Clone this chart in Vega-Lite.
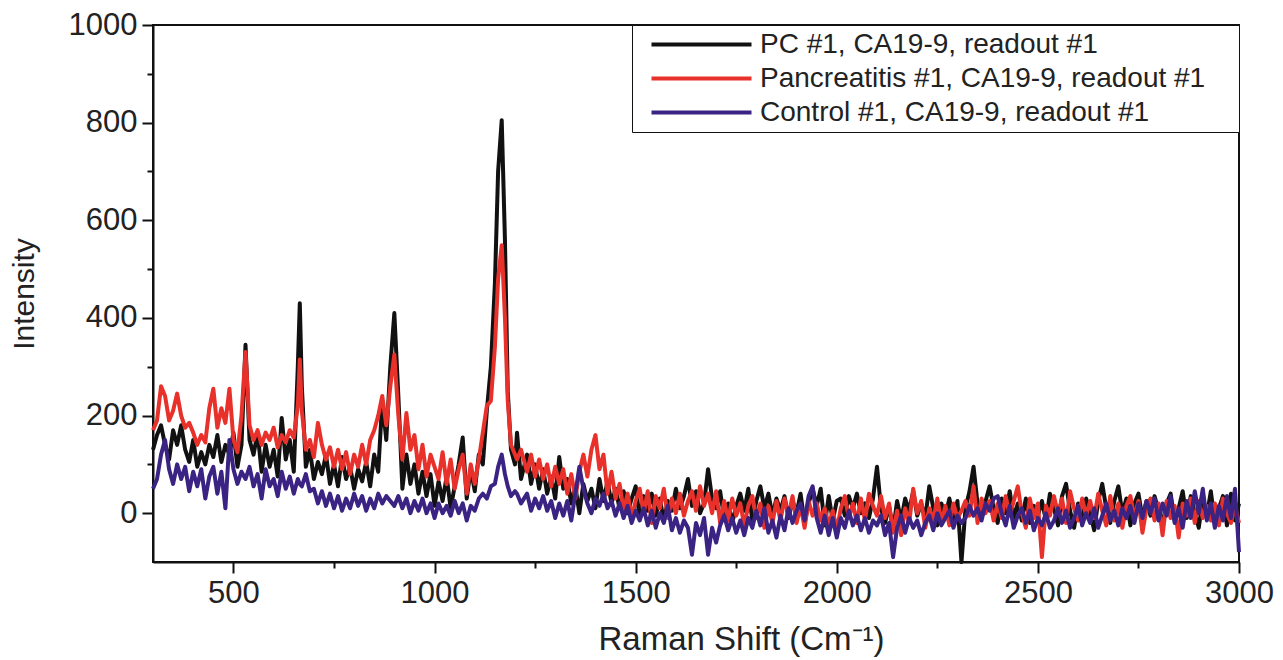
{
  "$schema": "https://vega.github.io/schema/vega-lite/v6.json",
  "width": 1086,
  "height": 537,
  "autosize": "none",
  "padding": {"left": 153, "top": 25, "right": 44, "bottom": 98},
  "background": "white",
  "config": {
    "font": "Liberation Sans",
    "view": {"stroke": "#111111", "strokeWidth": 2}
  },
  "data": {"values": [
    {"x":300,"pc":130,"pa":170,"co":50},{"x":310,"pc":160,"pa":190,"co":70},{"x":320,"pc":180,"pa":260,"co":120},{"x":330,"pc":140,"pa":240,"co":150},
    {"x":340,"pc":110,"pa":190,"co":90},{"x":350,"pc":170,"pa":210,"co":60},{"x":360,"pc":140,"pa":245,"co":100},{"x":370,"pc":180,"pa":200,"co":70},
    {"x":380,"pc":130,"pa":175,"co":95},{"x":390,"pc":105,"pa":185,"co":45},{"x":400,"pc":150,"pa":165,"co":85},{"x":410,"pc":95,"pa":140,"co":55},
    {"x":420,"pc":125,"pa":160,"co":90},{"x":430,"pc":100,"pa":145,"co":30},{"x":440,"pc":140,"pa":215,"co":75},{"x":450,"pc":115,"pa":255,"co":95},
    {"x":460,"pc":160,"pa":175,"co":40},{"x":470,"pc":105,"pa":215,"co":85},{"x":480,"pc":140,"pa":185,"co":10},{"x":490,"pc":120,"pa":255,"co":150},
    {"x":500,"pc":165,"pa":150,"co":90},{"x":510,"pc":95,"pa":125,"co":60},{"x":520,"pc":140,"pa":200,"co":85},{"x":530,"pc":345,"pa":330,"co":70},
    {"x":540,"pc":150,"pa":180,"co":95},{"x":550,"pc":120,"pa":150,"co":55},{"x":560,"pc":165,"pa":170,"co":80},{"x":570,"pc":85,"pa":140,"co":30},
    {"x":580,"pc":140,"pa":165,"co":90},{"x":590,"pc":95,"pa":150,"co":55},{"x":600,"pc":130,"pa":175,"co":70},{"x":610,"pc":75,"pa":135,"co":35},
    {"x":620,"pc":195,"pa":160,"co":85},{"x":630,"pc":110,"pa":145,"co":50},{"x":640,"pc":150,"pa":170,"co":75},{"x":650,"pc":85,"pa":155,"co":40},
    {"x":660,"pc":300,"pa":220,"co":70},{"x":665,"pc":430,"pa":315,"co":60},{"x":670,"pc":260,"pa":210,"co":55},{"x":680,"pc":95,"pa":130,"co":80},
    {"x":690,"pc":130,"pa":150,"co":45},
    {"x":700,"pc":70,"pa":115,"co":50},{"x":710,"pc":105,"pa":185,"co":20},{"x":720,"pc":80,"pa":140,"co":45},{"x":730,"pc":120,"pa":110,"co":15},
    {"x":740,"pc":60,"pa":135,"co":40},{"x":750,"pc":100,"pa":95,"co":10},{"x":760,"pc":55,"pa":130,"co":35},{"x":770,"pc":115,"pa":90,"co":5},
    {"x":780,"pc":70,"pa":125,"co":30},{"x":790,"pc":95,"pa":80,"co":10},{"x":800,"pc":50,"pa":120,"co":40},{"x":810,"pc":90,"pa":95,"co":15},
    {"x":820,"pc":65,"pa":140,"co":35},{"x":830,"pc":105,"pa":100,"co":5},{"x":840,"pc":55,"pa":150,"co":30},{"x":850,"pc":120,"pa":170,"co":10},
    {"x":860,"pc":85,"pa":200,"co":40},{"x":870,"pc":230,"pa":240,"co":20},{"x":880,"pc":150,"pa":180,"co":35},{"x":890,"pc":300,"pa":260,"co":25},
    {"x":900,"pc":410,"pa":325,"co":15},{"x":910,"pc":240,"pa":200,"co":35},{"x":920,"pc":50,"pa":110,"co":10},{"x":930,"pc":120,"pa":205,"co":30},
    {"x":940,"pc":60,"pa":130,"co":0},{"x":950,"pc":100,"pa":160,"co":25},{"x":960,"pc":40,"pa":90,"co":5},{"x":970,"pc":85,"pa":140,"co":30},
    {"x":980,"pc":35,"pa":75,"co":0},{"x":990,"pc":80,"pa":120,"co":20},{"x":1000,"pc":15,"pa":95,"co":-10},{"x":1010,"pc":65,"pa":70,"co":20},
    {"x":1020,"pc":25,"pa":125,"co":0},{"x":1030,"pc":75,"pa":60,"co":15},{"x":1040,"pc":10,"pa":110,"co":-5},{"x":1050,"pc":55,"pa":50,"co":25},
    {"x":1060,"pc":100,"pa":90,"co":0},{"x":1070,"pc":155,"pa":120,"co":20},{"x":1080,"pc":30,"pa":40,"co":-15},{"x":1090,"pc":90,"pa":100,"co":15},
    {"x":1100,"pc":45,"pa":60,"co":5},{"x":1110,"pc":120,"pa":110,"co":30},{"x":1120,"pc":100,"pa":165,"co":40},{"x":1130,"pc":210,"pa":220,"co":30},
    {"x":1140,"pc":300,"pa":230,"co":55},{"x":1150,"pc":470,"pa":340,"co":60},{"x":1158,"pc":700,"pa":480,"co":95},{"x":1167,"pc":805,"pa":549,"co":120},
    {"x":1175,"pc":560,"pa":400,"co":80},{"x":1182,"pc":250,"pa":230,"co":55},{"x":1190,"pc":130,"pa":140,"co":35},{"x":1200,"pc":100,"pa":120,"co":45},
    {"x":1205,"pc":165,"pa":110,"co":40},{"x":1215,"pc":70,"pa":130,"co":20},
    {"x":1230,"pc":120,"pa":85,"co":40},{"x":1240,"pc":60,"pa":120,"co":5},{"x":1250,"pc":100,"pa":75,"co":30},{"x":1260,"pc":50,"pa":110,"co":10},
    {"x":1270,"pc":90,"pa":70,"co":35},{"x":1280,"pc":40,"pa":100,"co":5},{"x":1290,"pc":75,"pa":55,"co":25},{"x":1300,"pc":30,"pa":95,"co":-10},
    {"x":1310,"pc":115,"pa":60,"co":20},{"x":1320,"pc":50,"pa":90,"co":-5},{"x":1330,"pc":70,"pa":40,"co":25},{"x":1340,"pc":20,"pa":80,"co":-15},
    {"x":1350,"pc":55,"pa":30,"co":40},{"x":1360,"pc":0,"pa":85,"co":95},{"x":1370,"pc":60,"pa":120,"co":50},{"x":1380,"pc":25,"pa":75,"co":20},
    {"x":1390,"pc":50,"pa":130,"co":0},{"x":1400,"pc":10,"pa":160,"co":30},{"x":1410,"pc":70,"pa":90,"co":15},{"x":1420,"pc":25,"pa":120,"co":40},
    {"x":1430,"pc":65,"pa":40,"co":10},{"x":1440,"pc":20,"pa":85,"co":25},{"x":1450,"pc":50,"pa":30,"co":-5},{"x":1460,"pc":10,"pa":60,"co":20},
    {"x":1470,"pc":45,"pa":5,"co":-10},{"x":1480,"pc":0,"pa":40,"co":15},{"x":1490,"pc":30,"pa":-10,"co":-20},{"x":1500,"pc":55,"pa":25,"co":5},
    {"x":1510,"pc":-10,"pa":50,"co":-15},{"x":1520,"pc":35,"pa":0,"co":10},{"x":1530,"pc":5,"pa":45,"co":-25},{"x":1540,"pc":40,"pa":-20,"co":5},
    {"x":1550,"pc":-5,"pa":35,"co":-30},{"x":1560,"pc":30,"pa":10,"co":0},{"x":1570,"pc":-15,"pa":50,"co":-20},{"x":1580,"pc":25,"pa":-10,"co":15},
    {"x":1590,"pc":5,"pa":30,"co":-35},{"x":1600,"pc":50,"pa":0,"co":-10},{"x":1610,"pc":10,"pa":40,"co":-40},{"x":1620,"pc":35,"pa":-5,"co":-15},
    {"x":1630,"pc":70,"pa":25,"co":-30},{"x":1640,"pc":15,"pa":45,"co":-85},{"x":1650,"pc":45,"pa":5,"co":-20},{"x":1660,"pc":0,"pa":55,"co":-45},
    {"x":1670,"pc":20,"pa":15,"co":-10},{"x":1680,"pc":90,"pa":40,"co":-85},{"x":1690,"pc":30,"pa":0,"co":-30},{"x":1700,"pc":10,"pa":45,"co":-60},
    {"x":1710,"pc":45,"pa":-20,"co":-25},{"x":1720,"pc":-10,"pa":25,"co":-5},{"x":1730,"pc":20,"pa":-15,"co":-35},{"x":1740,"pc":-20,"pa":30,"co":-10},
    {"x":1750,"pc":15,"pa":-5,"co":-40},{"x":1760,"pc":40,"pa":20,"co":-15},{"x":1770,"pc":5,"pa":-25,"co":-45},{"x":1780,"pc":50,"pa":15,"co":-10},
    {"x":1790,"pc":-15,"pa":35,"co":-30},{"x":1800,"pc":25,"pa":-10,"co":5},{"x":1810,"pc":55,"pa":20,"co":-25},{"x":1820,"pc":10,"pa":-30,"co":10},
    {"x":1830,"pc":40,"pa":15,"co":-40},{"x":1840,"pc":-5,"pa":-20,"co":-15},{"x":1850,"pc":30,"pa":25,"co":-50},{"x":1860,"pc":5,"pa":-15,"co":-5},
    {"x":1870,"pc":35,"pa":30,"co":-35},{"x":1880,"pc":-10,"pa":-5,"co":10},{"x":1890,"pc":25,"pa":35,"co":-20},{"x":1900,"pc":0,"pa":-20,"co":5},
    {"x":1910,"pc":40,"pa":15,"co":20},{"x":1920,"pc":-20,"pa":-30,"co":-15},{"x":1930,"pc":20,"pa":25,"co":35},{"x":1940,"pc":50,"pa":-5,"co":55},
    {"x":1950,"pc":15,"pa":20,"co":-10},{"x":1960,"pc":50,"pa":-15,"co":-40},{"x":1970,"pc":-25,"pa":10,"co":-5},{"x":1980,"pc":35,"pa":-25,"co":-45},
    {"x":1990,"pc":-15,"pa":5,"co":-10},{"x":2000,"pc":25,"pa":-35,"co":-50},{"x":2010,"pc":30,"pa":10,"co":-10},{"x":2020,"pc":-5,"pa":35,"co":-30},
    {"x":2030,"pc":35,"pa":-10,"co":5},{"x":2040,"pc":10,"pa":20,"co":-25},{"x":2050,"pc":40,"pa":-20,"co":-5},{"x":2060,"pc":0,"pa":30,"co":-35},
    {"x":2070,"pc":20,"pa":-15,"co":-10},{"x":2080,"pc":-10,"pa":40,"co":-40},{"x":2090,"pc":30,"pa":15,"co":-15},{"x":2100,"pc":95,"pa":-5,"co":-25},
    {"x":2110,"pc":10,"pa":35,"co":-5},{"x":2120,"pc":-20,"pa":-10,"co":-45},{"x":2130,"pc":15,"pa":20,"co":-20},{"x":2140,"pc":-35,"pa":-40,"co":-90},
    {"x":2150,"pc":25,"pa":5,"co":-30},{"x":2160,"pc":-15,"pa":-45,"co":-5},{"x":2170,"pc":30,"pa":10,"co":-40},{"x":2180,"pc":5,"pa":-20,"co":-10},
    {"x":2190,"pc":45,"pa":50,"co":-30},{"x":2200,"pc":-5,"pa":0,"co":-15},{"x":2210,"pc":20,"pa":25,"co":-45},{"x":2220,"pc":-10,"pa":-30,"co":-20},
    {"x":2230,"pc":55,"pa":10,"co":-5},{"x":2240,"pc":10,"pa":-15,"co":-35},{"x":2250,"pc":-25,"pa":30,"co":0},{"x":2260,"pc":20,"pa":-20,"co":-25},
    {"x":2270,"pc":-5,"pa":15,"co":-10},{"x":2280,"pc":30,"pa":-25,"co":5},{"x":2290,"pc":-15,"pa":20,"co":-30},{"x":2300,"pc":25,"pa":-10,"co":-5},
    {"x":2310,"pc":-100,"pa":5,"co":-20},{"x":2320,"pc":10,"pa":25,"co":-10},{"x":2330,"pc":45,"pa":-5,"co":15},{"x":2340,"pc":95,"pa":55,"co":-5},
    {"x":2350,"pc":20,"pa":-20,"co":10},{"x":2360,"pc":-10,"pa":30,"co":-15},{"x":2370,"pc":25,"pa":0,"co":20},{"x":2380,"pc":55,"pa":25,"co":5},
    {"x":2390,"pc":10,"pa":-15,"co":30},{"x":2400,"pc":-20,"pa":20,"co":35},{"x":2410,"pc":30,"pa":-10,"co":0},{"x":2420,"pc":0,"pa":35,"co":-25},
    {"x":2430,"pc":45,"pa":-5,"co":15},{"x":2440,"pc":-10,"pa":25,"co":-30},{"x":2450,"pc":20,"pa":55,"co":-5},{"x":2460,"pc":-15,"pa":0,"co":10},
    {"x":2470,"pc":30,"pa":-30,"co":-20},{"x":2480,"pc":-20,"pa":30,"co":5},{"x":2490,"pc":15,"pa":-10,"co":-35},{"x":2500,"pc":-5,"pa":20,"co":-10},
    {"x":2510,"pc":25,"pa":-90,"co":-25},{"x":2520,"pc":-15,"pa":15,"co":0},{"x":2530,"pc":40,"pa":-5,"co":-30},{"x":2540,"pc":10,"pa":35,"co":-15},
    {"x":2550,"pc":-25,"pa":0,"co":10},{"x":2560,"pc":35,"pa":30,"co":-20},{"x":2570,"pc":60,"pa":-20,"co":5},{"x":2580,"pc":5,"pa":45,"co":-30},
    {"x":2590,"pc":-30,"pa":10,"co":-10},{"x":2600,"pc":20,"pa":-15,"co":15},{"x":2610,"pc":-10,"pa":30,"co":-25},{"x":2620,"pc":30,"pa":-5,"co":0},
    {"x":2630,"pc":0,"pa":25,"co":-20},{"x":2640,"pc":-35,"pa":-10,"co":10},{"x":2650,"pc":25,"pa":40,"co":-30},{"x":2660,"pc":60,"pa":5,"co":-5},
    {"x":2670,"pc":10,"pa":-25,"co":20},{"x":2680,"pc":-20,"pa":35,"co":-15},{"x":2690,"pc":25,"pa":-15,"co":5},{"x":2700,"pc":55,"pa":20,"co":-25},
    {"x":2710,"pc":0,"pa":-30,"co":10},{"x":2720,"pc":30,"pa":15,"co":-10},{"x":2730,"pc":-25,"pa":35,"co":15},{"x":2740,"pc":20,"pa":-10,"co":-20},
    {"x":2750,"pc":40,"pa":25,"co":20},{"x":2760,"pc":-10,"pa":-40,"co":-10},{"x":2770,"pc":25,"pa":10,"co":25},{"x":2780,"pc":-5,"pa":30,"co":0},
    {"x":2790,"pc":35,"pa":-15,"co":30},{"x":2800,"pc":5,"pa":20,"co":-15},{"x":2810,"pc":-20,"pa":-45,"co":20},{"x":2820,"pc":20,"pa":25,"co":-5},
    {"x":2830,"pc":40,"pa":-10,"co":35},{"x":2840,"pc":-15,"pa":15,"co":-20},{"x":2850,"pc":10,"pa":-50,"co":10},{"x":2860,"pc":45,"pa":20,"co":-30},
    {"x":2870,"pc":-10,"pa":-5,"co":25},{"x":2880,"pc":35,"pa":30,"co":-10},{"x":2890,"pc":0,"pa":-20,"co":45},{"x":2900,"pc":-30,"pa":25,"co":0},
    {"x":2910,"pc":30,"pa":-10,"co":50},{"x":2920,"pc":-5,"pa":15,"co":-15},{"x":2930,"pc":45,"pa":-15,"co":20},{"x":2940,"pc":-20,"pa":20,"co":-30},
    {"x":2950,"pc":10,"pa":-25,"co":15},{"x":2960,"pc":35,"pa":30,"co":-15},{"x":2970,"pc":-25,"pa":0,"co":35},{"x":2980,"pc":40,"pa":-20,"co":-10},
    {"x":2990,"pc":-15,"pa":15,"co":50},{"x":3000,"pc":20,"pa":-20,"co":-80}
  ]},
  "transform": [{"fold": ["pc", "pa", "co"], "as": ["series", "intensity"]}],
  "layer": [
    {
      "transform": [{"filter": "datum.series == 'pc'"}],
      "mark": {"type": "line", "strokeWidth": 4, "strokeJoin": "round"},
      "encoding": {
        "x": {"field": "x", "type": "quantitative",
          "scale": {"domain": [300, 3000], "nice": false, "zero": false},
          "axis": {"values": [500, 1000, 1500, 2000, 2500, 3000], "format": "d", "grid": false, "orient": "bottom",
            "domainColor": "#111111", "domainWidth": 2, "tickColor": "#111111", "tickWidth": 2, "tickSize": 11,
            "labelFontSize": 31, "labelColor": "#222222", "labelPadding": 5, "labelFlush": false, "labelOverlap": false, "labelBound": false,
            "title": "Raman Shift (Cm⁻¹)", "titleFontSize": 33, "titleFontWeight": "normal", "titleColor": "#222222", "titlePadding": 15, "titleX": 588}},
        "y": {"field": "intensity", "type": "quantitative",
          "scale": {"domain": [-100, 1000], "nice": false, "zero": false},
          "axis": {"values": [0, 200, 400, 600, 800, 1000], "format": "d", "grid": false, "orient": "left",
            "domainColor": "#111111", "domainWidth": 2, "tickColor": "#111111", "tickWidth": 2, "tickSize": 11,
            "labelFontSize": 31, "labelColor": "#222222", "labelPadding": 5, "labelFlush": false, "labelOverlap": false, "labelBound": false,
            "title": "Intensity", "titleFontSize": 30, "titleFontWeight": "normal", "titleColor": "#222222", "titlePadding": 29}},
        "color": {"field": "series", "type": "nominal",
          "scale": {"domain": ["pc", "pa", "co"], "range": ["#111111", "#e8312b", "#3b2384"]},
          "legend": {"orient": "top-right", "offset": 0, "title": ".", "titleOrient": "right", "titlePadding": 28, "titleFontSize": 2, "titleColor": "white",
            "symbolType": "M0,0H8", "symbolSize": 625,
            "symbolStrokeWidth": 4, "labelFontSize": 28, "labelColor": "#222222", "labelOffset": 94, "labelLimit": 800,
            "padding": 5, "rowPadding": 5, "strokeColor": "#111111", "fillColor": "white",
            "labelExpr": "datum.value == 'pc' ? 'PC #1, CA19-9, readout #1' : datum.value == 'pa' ? 'Pancreatitis #1, CA19-9, readout #1' : 'Control #1, CA19-9, readout #1'"}}
      }
    },
    {
      "transform": [{"filter": "datum.series == 'pa'"}],
      "mark": {"type": "line", "strokeWidth": 4, "strokeJoin": "round"},
      "encoding": {
        "x": {"field": "x", "type": "quantitative", "axis": null},
        "y": {"field": "intensity", "type": "quantitative", "axis": null},
        "color": {"field": "series", "type": "nominal"}
      }
    },
    {
      "transform": [{"filter": "datum.series == 'co'"}],
      "mark": {"type": "line", "strokeWidth": 4, "strokeJoin": "round"},
      "encoding": {
        "x": {"field": "x", "type": "quantitative", "axis": null},
        "y": {"field": "intensity", "type": "quantitative", "axis": null},
        "color": {"field": "series", "type": "nominal"}
      }
    },
    {
      "transform": [{"filter": "datum.series == 'co'"}],
      "mark": {"type": "line", "opacity": 0},
      "encoding": {
        "x": {"field": "x", "type": "quantitative",
          "axis": {"values": [750, 1250, 1750, 2250, 2750], "orient": "bottom", "labels": false, "domain": false, "grid": false,
            "tickColor": "#111111", "tickWidth": 2, "tickSize": 6, "title": null}},
        "y": {"field": "intensity", "type": "quantitative",
          "axis": {"values": [100, 300, 500, 700, 900], "orient": "left", "labels": false, "domain": false, "grid": false,
            "tickColor": "#111111", "tickWidth": 2, "tickSize": 6, "title": null}}
      }
    }
  ],
  "resolve": {"axis": {"x": "independent", "y": "independent"}}
}
